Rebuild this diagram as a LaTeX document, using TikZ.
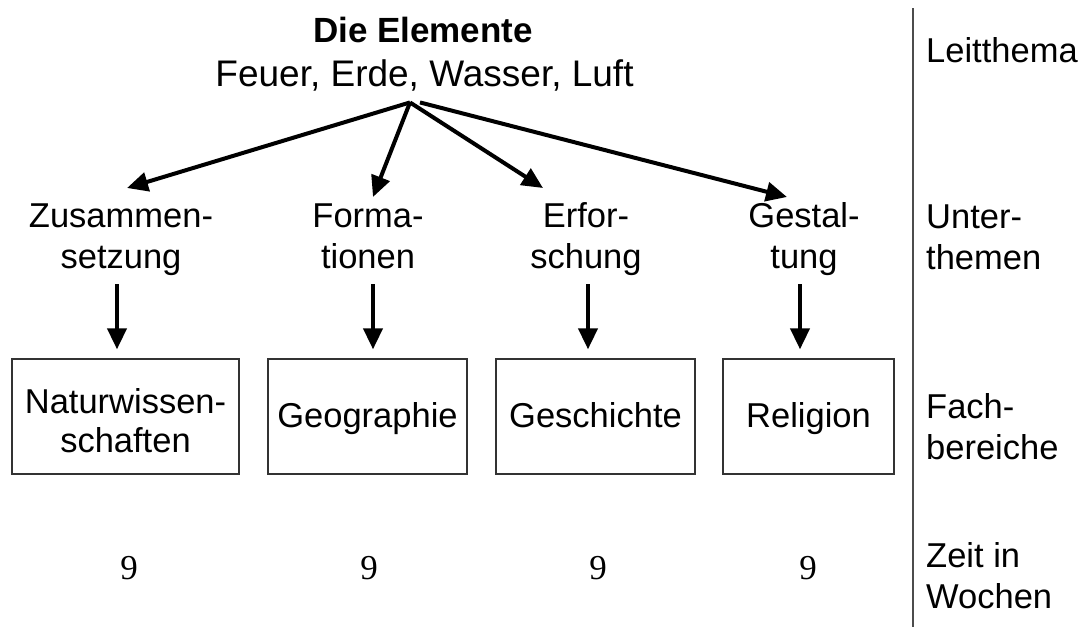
\documentclass[tikz,border=0pt]{standalone}
\usepackage{fontspec}
\setmainfont{Liberation Sans}
\newfontfamily\numfont{Liberation Serif}
\usetikzlibrary{arrows.meta}
\begin{document}
\begin{tikzpicture}[x=1pt,y=-1pt,
  lbl/.style={inner sep=0pt, align=center, anchor=base,
    font=\fontsize{34.5}{41}\selectfont},
  side/.style={inner sep=0pt, align=left, anchor=base west,
    font=\fontsize{34.5}{41}\selectfont},
  fach/.style={draw=black!80, line width=1.3pt, minimum height=115pt,
    inner sep=0pt, align=center, text height=25pt, text depth=4pt,
    font=\fontsize{34.5}{39}\selectfont},
  num/.style={inner sep=0pt, anchor=base,
    font=\numfont\fontsize{35}{40}\selectfont},
  arr/.style={line width=4pt, -{Triangle[length=21pt,width=19pt]}},
  divider/.style={draw=black!70, line width=1.5pt}
]
\useasboundingbox (0,0) rectangle (1081,627);

% main theme
\node[inner sep=0pt, anchor=base, font=\bfseries\fontsize{35}{40}\selectfont]
  (title) at (423,42) {Die Elemente};
\node[inner sep=0pt, anchor=base, font=\fontsize{37}{42}\selectfont]
  (feuer) at (424.5,86) {Feuer, Erde, Wasser, Luft};

% sub-themes (base = baseline of the second line)
\node[lbl] (zus)  at (121,268) {Zusammen-\\setzung};
\node[lbl] (form) at (368,268) {Forma-\\tionen};
\node[lbl] (erf)  at (586,268) {Erfor-\\schung};
\node[lbl] (gest) at (804,268) {Gestal-\\tung};

% subject boxes
\node[fach, minimum width=227pt, text height=75pt] (nat) at (125.5,416.5) {Naturwissen-\\schaften};
\node[fach, minimum width=199pt] (geo) at (367.5,416.5) {Geographie};
\node[fach, minimum width=199pt] (ges) at (595.5,416.5) {Geschichte};
\node[fach, minimum width=171pt] (rel) at (808.5,416.5) {Religion};

% weeks
\node[num] (w1) at (129,579) {9};
\node[num] (w2) at (369,579) {9};
\node[num] (w3) at (598,579) {9};
\node[num] (w4) at (808,579) {9};

% arrows from the main theme to the sub-themes
\draw[arr] ([xshift=-14.5pt,yshift=-11.5pt]feuer.south) -- ([xshift=6pt,yshift=80pt]zus.base);
\draw[arr] ([xshift=-14.5pt,yshift=-11.5pt]feuer.south) -- ([xshift=5pt,yshift=71pt]form.base);
\draw[arr] ([xshift=-14.5pt,yshift=-11.5pt]feuer.south) -- ([xshift=-43pt,yshift=80pt]erf.base);
\draw[arr] ([xshift=-4.5pt,yshift=-11.5pt]feuer.south) -- ([xshift=-17pt,yshift=71pt]gest.base);

% arrows from the sub-themes to the subjects
\draw[arr] ([xshift=-4pt,yshift=-16pt]zus.base)  -- ([xshift=-8.5pt,yshift=9pt]nat.north);
\draw[arr] ([xshift=5pt,yshift=-16pt]form.base)  -- ([xshift=5.5pt,yshift=9pt]geo.north);
\draw[arr] ([xshift=2pt,yshift=-16pt]erf.base)   -- ([xshift=-7.5pt,yshift=9pt]ges.north);
\draw[arr] ([xshift=-4pt,yshift=-16pt]gest.base) -- ([xshift=-8.5pt,yshift=9pt]rel.north);

% divider and row labels
\coordinate (divtop) at (913,8);
\coordinate (divbot) at (913,627);
\draw[divider] (divtop) -- (divbot);
\node[side] (l1) at (926,62)  {Leitthema};
\node[side] (l2) at (926,269) {Unter-\\themen};
\node[side] (l3) at (926,459) {Fach-\\bereiche};
\node[side] (l4) at (926,608) {Zeit in\\Wochen};
\end{tikzpicture}
\end{document}
